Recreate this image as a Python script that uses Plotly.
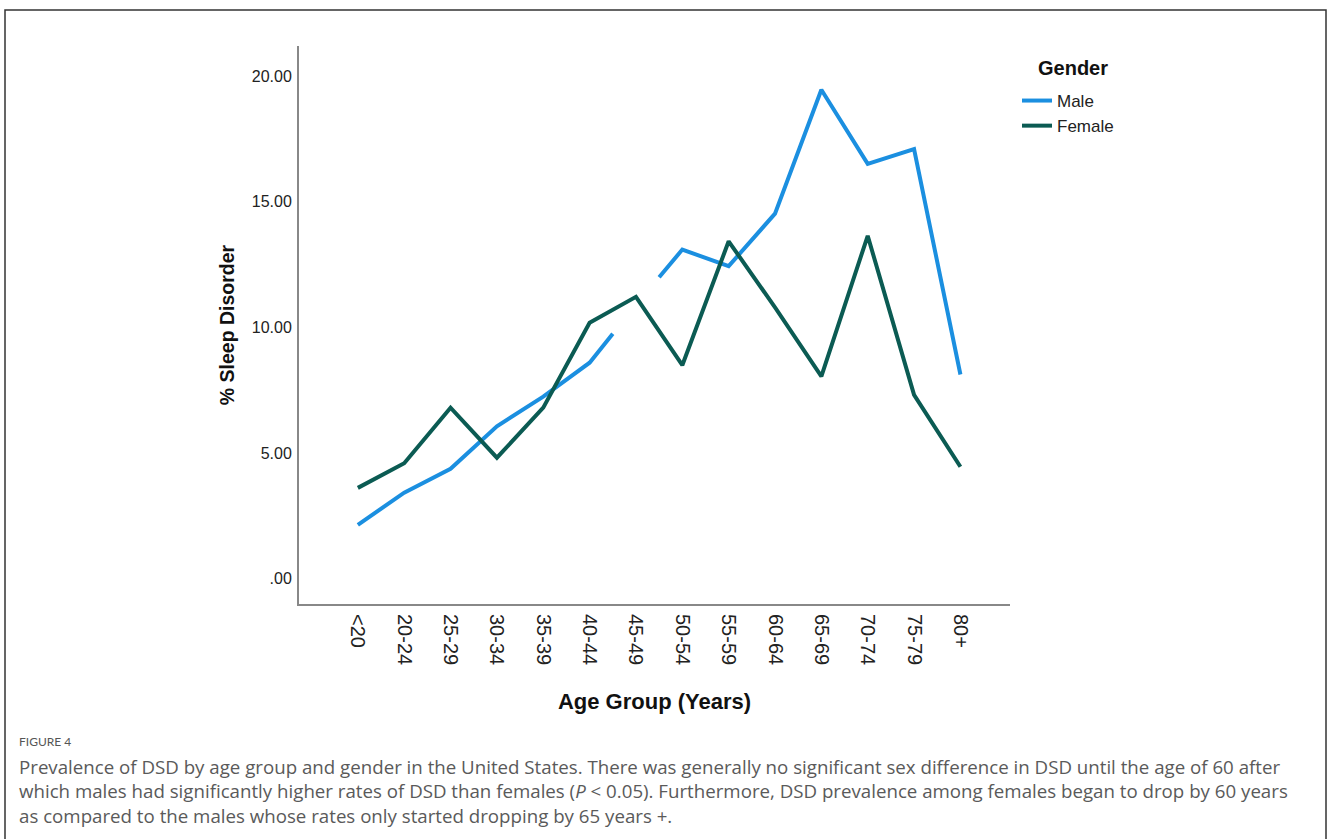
import plotly.graph_objects as go

# Age groups and prevalence (%) of sleep disorder by gender
age_groups = ["<20", "20-24", "25-29", "30-34", "35-39", "40-44", "45-49",
              "50-54", "55-59", "60-64", "65-69", "70-74", "75-79", "80+"]
male = [2.15, 3.43, 4.38, 6.07, 7.25, 8.6, 10.9, 13.1, 12.44, 14.53, 19.46, 16.51, 17.1, 8.13]
female = [3.62, 4.6, 6.81, 4.82, 6.81, 10.19, 11.22, 8.5, 13.43, 10.8, 8.06, 13.65, 7.32, 4.46]
y_tick_values = [0, 5, 10, 15, 20]
y_tick_labels = [".00", "5.00", "10.00", "15.00", "20.00"]

caption_label = "FIGURE 4"
caption_lines = [
    "Prevalence of DSD by age group and gender in the United States. There was generally no significant sex difference in DSD until the age of 60 after",
    "which males had significantly higher rates of DSD than females (<i>P</i> &lt; 0.05). Furthermore, DSD prevalence among females began to drop by 60 years",
    "as compared to the males whose rates only started dropping by 65 years +.",
]

MALE_COLOR = "#1b8fe0"
FEMALE_COLOR = "#0b5b53"

W, H = 1328, 839
L, R, T, B = 299, 1010, 46, 604  # plot area in pixels

def px_x(px):
    return (px - L) / (R - L)

def px_y(py):
    return (B - py) / (B - T)

xs = list(range(len(age_groups)))

# The 45-49 male point is not drawn: the line stops halfway on each side of it
gap = age_groups.index("45-49")
male_x, male_y = [], []
for i, v in enumerate(male):
    if i == gap:
        male_x += [i - 0.5, None, i + 0.5]
        male_y += [(male[i - 1] + v) / 2, None, (male[i + 1] + v) / 2]
    else:
        male_x.append(i)
        male_y.append(v)

fig = go.Figure()
fig.add_trace(go.Scatter(x=male_x, y=male_y, mode="lines", name="Male",
                         line=dict(color=MALE_COLOR, width=4), connectgaps=False))
fig.add_trace(go.Scatter(x=xs, y=female, mode="lines", name="Female",
                         line=dict(color=FEMALE_COLOR, width=4)))

fig.update_layout(
    width=W, height=H,
    margin=dict(l=L, r=W - R, t=T, b=H - B, pad=0),
    paper_bgcolor="white", plot_bgcolor="white",
    font=dict(family="Arial, Liberation Sans", color="#222222"),
    showlegend=True,
    legend=dict(
        x=px_x(1017), y=px_y(83), xanchor="left", yanchor="top",
        font=dict(size=17, color="#222222"),
        tracegroupgap=0, itemwidth=30, bgcolor="rgba(0,0,0,0)",
    ),
)

fig.update_xaxes(
    range=[-1.27, 14.07], tickmode="array", tickvals=xs, ticktext=age_groups,
    tickangle=90, tickfont=dict(size=20, color="#222222"),
    showgrid=False, zeroline=False, showline=True, linecolor="#888888", linewidth=2,
    ticks="outside", ticklen=4, tickcolor="rgba(0,0,0,0)",
    title=dict(text="<b>Age Group (Years)</b>", font=dict(size=22, color="#111111"), standoff=29),
)
fig.update_yaxes(
    range=[-1.0, 21.2], tickmode="array", tickvals=y_tick_values, ticktext=y_tick_labels,
    tickfont=dict(size=16, color="#222222"),
    showgrid=False, zeroline=False, showline=True, linecolor="#888888", linewidth=2,
    ticks="outside", ticklen=2, tickcolor="rgba(0,0,0,0)",
    title=dict(text="<b>% Sleep Disorder</b>", font=dict(size=19.5, color="#111111"), standoff=12),
)

# Legend heading
fig.add_annotation(text="<b>Gender</b>", xref="paper", yref="paper",
                   x=px_x(1073), y=px_y(68), xanchor="center", yanchor="middle",
                   showarrow=False, font=dict(size=20, color="#111111"))

# Outer frame around the figure panel
fig.add_shape(type="rect", xref="paper", yref="paper",
              x0=px_x(5), x1=px_x(1326), y0=px_y(845), y1=px_y(10),
              line=dict(color="#333333", width=1.5), fillcolor="rgba(0,0,0,0)", layer="below")

# Caption
fig.add_annotation(text=caption_label, xref="paper", yref="paper",
                   x=px_x(17), y=px_y(741), xanchor="left", yanchor="middle", showarrow=False,
                   font=dict(family="Lato", size=12, color="#555555"))
for k, line in enumerate(caption_lines):
    fig.add_annotation(text=line, xref="paper", yref="paper",
                       x=px_x(17), y=px_y(766 + 24.5 * k), xanchor="left", yanchor="middle",
                       showarrow=False, font=dict(family="Open Sans", size=18.7, color="#5a5a5a"))

fig.write_html("out.html")
